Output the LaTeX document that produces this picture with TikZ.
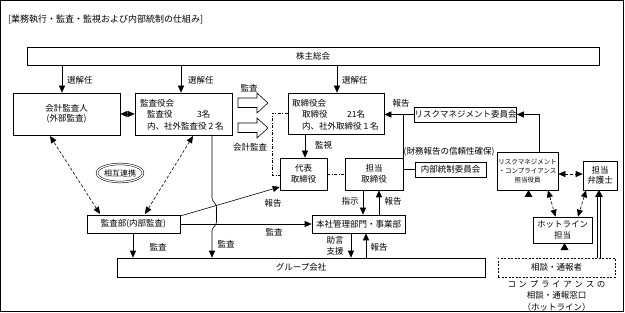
\documentclass[tikz,border=0pt]{standalone}
\usepackage{fontspec}
\setmainfont{Noto Sans CJK JP}
\usetikzlibrary{arrows.meta,shapes.geometric,calc}
\newcommand{\dblarr}[3]{%
  \draw[double, double distance=2.2pt, line width=0.5pt] (#1,#2) -- (#1,#3+7);
  \fill (#1-4,#3+7) -- (#1+4,#3+7) -- (#1,#3) -- cycle;}
\begin{document}
\begin{tikzpicture}[x=1pt,y=-1pt,
  font=\fontsize{8.5}{10.5}\selectfont,
  box/.style={draw, line width=0.6pt, inner sep=0pt, align=center},
  lbl/.style={inner sep=0pt},
  arr/.style={line width=0.6pt, -{Triangle[width=6pt,length=7pt]}},
  darr/.style={line width=0.6pt, dash pattern=on 3pt off 2pt, {Triangle[width=6pt,length=7pt]}-{Triangle[width=6pt,length=7pt]}},
  dashdot/.style={line width=0.6pt, dash pattern=on 3pt off 1.5pt on 1pt off 1.5pt},
  blockarr/.style={draw, line width=0.6pt, fill=white}]
\useasboundingbox (0,0) rectangle (625,313);
\draw[line width=0.7pt] (0.5,0.5) rectangle (623.5,311.5);

\node[lbl, anchor=west, font=\fontsize{9}{10}\selectfont] (title) at (8,19) {[業務執行・監査・監視および内部統制の仕組み]};

% boxes
\node[box, minimum width=572pt, minimum height=18pt] (kabu) at (313,56) {株主総会};
\node[box, minimum width=107pt, minimum height=42pt] (kaikei) at (66.5,114) {会計監査人\\(外部監査)};
\node[box, minimum width=97pt, minimum height=42pt] (kansayaku) at (183.5,114) {};
\node[lbl, anchor=west] (ky1) at (140,103) {監査役会};
\node[lbl, anchor=west] (ky2) at (147,114.5) {監査役};
\node[lbl, anchor=west] (ky3) at (197,114.5) {3名};
\node[lbl, anchor=west] (ky4) at (147,126) {内、社外監査役 2 名};

\node[box, minimum width=96pt, minimum height=41pt] (tori) at (336,113.5) {};
\node[lbl, anchor=west] (tr1) at (292,103) {取締役会};
\node[lbl, anchor=west] (tr2) at (302,114.5) {取締役};
\node[lbl, anchor=west] (tr3) at (347,114.5) {21名};
\node[lbl, anchor=west] (tr4) at (302,126) {内、社外取締役 1 名};

\node[box, minimum width=47pt, minimum height=32pt] (daihyo) at (303.5,174) {代表\\取締役};
\node[box, minimum width=58pt, minimum height=32pt] (tanto) at (374,174) {担当\\取締役};
\node[box, minimum width=93pt, minimum height=18pt] (honsha) at (358.5,224) {本社管理部門・事業部};
\node[box, minimum width=93pt, minimum height=18pt] (kansabu) at (133.5,224) {監査部(内部監査)};
\node[box, minimum width=368pt, minimum height=19pt] (group) at (301,267.5) {グループ会社};

\node[box, minimum width=101pt, minimum height=15pt] (riskcom) at (465.5,114.5) {リスクマネジメント委員会};
\node[box, minimum width=71pt, minimum height=15pt] (naibu) at (450.5,169.5) {内部統制委員会};
\node[box, minimum width=61pt, minimum height=38pt, font=\fontsize{6.5}{9}\selectfont] (yakuin) at (527.5,171) {リスクマネジメント\\・コンプライアンス\\担当役員};
\node[box, minimum width=34pt, minimum height=29pt] (bengo) at (600,175.5) {担当\\弁護士};
\node[box, minimum width=59pt, minimum height=26pt] (hotline) at (562.5,230) {ホットライン\\担当};
\node[box, dash pattern=on 2pt off 1.5pt, minimum width=117pt, minimum height=19pt] (sodan) at (556.5,267.5) {相談・通報者};
\node[lbl, align=center, font=\fontsize{8.5}{11.5}\selectfont] (madoguchi) at (556.5,295.5) {\makebox[98pt]{コ\hfill ン\hfill プ\hfill ラ\hfill イ\hfill ア\hfill ン\hfill ス\hfill の}\\相談・通報窓口\\（ホットライン）};

\node[ellipse, draw, line width=0.5pt, double, double distance=1.2pt, minimum width=46pt, minimum height=18pt, inner sep=0pt, font=\fontsize{8}{9}\selectfont] (sogo) at (120,173) {相互連携};

% 選解任
\draw[arr] (62,0 |- kabu.south) -- (62,0 |- kaikei.north);
\node[lbl, anchor=west] (s1) at (67,80) {選解任};
\draw[arr] (181,0 |- kabu.south) -- (181,0 |- kansayaku.north);
\node[lbl, anchor=west] (s2) at (188,80) {選解任};
\draw[arr] (337,0 |- kabu.south) -- (337,0 |- tori.north);
\node[lbl, anchor=west] (s3) at (342,80) {選解任};

% kaikei <-> kansayaku
\draw[darr] (kaikei.east) -- (kansayaku.west);

% block arrows
\draw[blockarr] (238,98) -- (257,98) -- (257,93) -- (268,103) -- (257,113) -- (257,107.5) -- (238,107.5) -- cycle;
\draw[blockarr] (238,123) -- (257,123) -- (257,118) -- (268,128) -- (257,138) -- (257,132.5) -- (238,132.5) -- cycle;
\node[lbl] (bk1) at (249,88) {監査};
\node[lbl] (bk2) at (250,147) {会計監査};

% dash-dot from tori to daihyo
\draw[dashdot] (tori.west |- 0,113) -- (272,113) -- (272,175) -- (daihyo.west |- 0,175);
\draw[dashdot] (daihyo.east) -- (tanto.west);

% 監視
\draw[arr] (305,0 |- tori.south) -- (305,0 |- daihyo.north);
\node[lbl, anchor=west] (kanshi) at (315,145) {監視};

% 指示 / 報告
\draw[arr] (363,0 |- tanto.south) -- (363,0 |- honsha.north);
\node[lbl] (shiji) at (350,201) {指示};
\draw[arr] (379,0 |- honsha.north) -- (379,0 |- tanto.south);
\node[lbl] (hk1) at (393,201) {報告};

% 助言支援 / 報告
\draw[arr] (351,0 |- honsha.south) -- (351,0 |- group.north);
\node[lbl, align=center] (jogen) at (335,246) {助言\\支援};
\draw[arr] (366,0 |- group.north) -- (366,0 |- honsha.south);
\node[lbl] (hk2) at (379,247) {報告};

% kansabu arrows
\draw[arr] (kansabu.east) -- (honsha.west);
\node[lbl] (ks1) at (274,232.5) {監査};
\draw[arr] (kansabu.east |- 0,216) -- (daihyo.south west |- 0,187);
\node[lbl] (hk3) at (273,203) {報告};
\draw[arr] (133,0 |- kansabu.south) -- (133,0 |- group.north);
\node[lbl] (ks2) at (158,247) {監査};

% kansayaku vertical with bump
\draw[line width=0.6pt, -{Triangle[width=6pt,length=7pt]}] (212,0 |- kansayaku.south) -- (212,198) to[out=-90,in=90] (216.5,207) -- (216.5,222) to[out=-90,in=90] (212,231) -- (212,0 |- group.north);
\node[lbl] (ks3) at (226,244) {監査};

% dashed to kaikei / kansayaku
\draw[darr] (100,214) -- (50,136);
\draw[darr] (145,214) -- (193,136);

% risk committee
\draw[arr] (riskcom.west) -- (tori.east |- riskcom.west);
\node[lbl] (hk4) at (401,103) {報告};
\draw[line width=0.6pt] (403,0 |- riskcom.west) -- (403,0 |- naibu.west) -- (naibu.west);
\node[lbl] (zaimu) at (449,152) {(財務報告の信頼性確保)};
\draw[arr] (539,0 |- yakuin.north) -- (539,0 |- riskcom.east) -- (riskcom.east);

% yakuin <-> bengo
\draw[darr] (yakuin.east |- 0,174) -- (bengo.west |- 0,174);

% hotline dashed
\draw[darr] (548,0 |- yakuin.south) -- (555.5,0 |- hotline.north);
\draw[darr] (586,0 |- bengo.south) -- (578,0 |- hotline.north);

% double arrows
\dblarr{528.5}{258}{190}
\dblarr{599}{258}{190}
\dblarr{564.5}{258}{243}
\end{tikzpicture}
\end{document}
